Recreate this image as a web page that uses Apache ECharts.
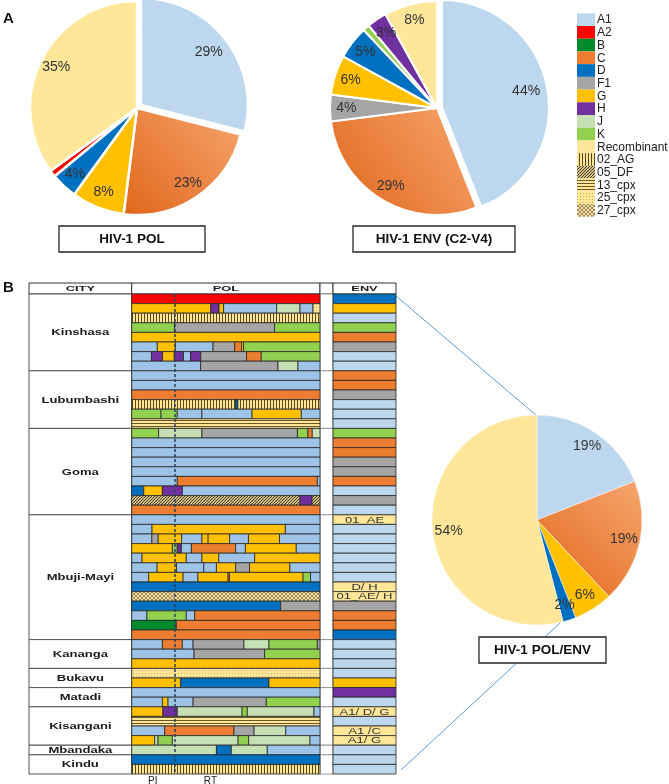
<!DOCTYPE html>
<html>
<head>
<meta charset="utf-8">
<title>HIV-1 subtypes</title>
<script src="https://cdn.jsdelivr.net/npm/echarts@6/dist/echarts.min.js"></script>
<style>
html, body { margin: 0; padding: 0; background: #fff; }
#chart { width: 669px; height: 784px; }
</style>
</head>
<body>
<div id="chart"></div>
<script>
// ---- data ----
var subtypes = ['A1', 'A2', 'B', 'C', 'D', 'F1', 'G', 'H', 'J', 'K', 'Recombinant',
                '02_AG', '05_DF', '13_cpx', '25_cpx', '27_cpx'];

var polPieNames = ['A1', 'C', 'G', 'D', 'A2', 'Recombinant'];
var polPieValues = [29, 23, 8, 4, 1, 35];

var envPieNames = ['A1', 'C', 'F1', 'G', 'D', 'K', 'H', 'Recombinant'];
var envPieValues = [44, 29, 4, 6, 5, 1, 3, 8];

var bothPieNames = ['A1', 'C', 'G', 'D', 'Recombinant'];
var bothPieValues = [19, 19, 6, 2, 54];

var cities = ['Kinshasa', 'Lubumbashi', 'Goma', 'Mbuji-Mayi', 'Kananga', 'Bukavu',
              'Matadi', 'Kisangani', 'Mbandaka', 'Kindu'];
var cityRowCounts = [8, 6, 9, 13, 3, 2, 2, 4, 1, 2];

// each POL row: subtype, end position (% of the pol fragment) ...
var polRows = [
  'A2 100',
  'G 42 H 46.4 G 48.8 A1 77 J 89.4 A1 96.3 25_cpx 100',
  '02_AG 100',
  'K 22.7 F1 75.9 K 100',
  'G 100',
  'A1 13.6 G 23.2 A1 43.2 F1 54.7 C 58.4 G 59.4 K 100',
  'A1 10.5 H 16.4 G 22.6 H 27.5 A1 31.3 H 36.7 F1 61 C 68.8 K 100',
  'A1 36.6 F1 77.7 J 88.3 A1 100',
  // Lubumbashi
  'A1 100',
  'A1 100',
  'C 100',
  '02_AG 55.2 D 56.4 02_AG 100',
  'K 15.6 K 24.2 A1 37.3 A1 63.9 G 90.1 A1 100',
  '13_cpx 100',
  // Goma
  'K 14.3 J 37.3 F1 88 K 93.6 C 95.9 J 100',
  'A1 100',
  'A1 100',
  'A1 100',
  'A1 100',
  'A1 24.2 C 98.6 A1 100',
  'D 6.4 G 16.3 H 26.9 A1 100',
  '05_DF 89.4 H 95.8 05_DF 100',
  'C 100',
  // Mbuji-Mayi
  'A1 100',
  'A1 10.8 G 81.6 A1 100',
  'A1 10.7 F1 14.1 G 26.5 A1 37.3 G 40.6 G 52 A1 62 G 78.5 A1 100',
  'G 21.6 K 24.2 H 26.4 A1 31.7 C 55.2 A1 60.4 G 87.4 A1 100',
  'A1 5.5 G 29 A1 37.3 G 46.2 A1 65.3 G 100',
  'A1 13.5 G 23.8 A1 38.3 A1 45 G 55.2 F1 62.6 G 84 A1 100',
  'A1 9 G 27.3 A1 35.2 G 51.2 C 51.9 G 91 K 95 A1 100',
  'D 100',
  '27_cpx 100',
  'D 79.1 F1 100',
  'A1 8.1 K 29 A1 33.5 C 100',
  'B 23.7 C 100',
  'C 100',
  // Kananga
  'A1 16.3 C 26.9 A1 32.6 F1 59.6 J 72.9 K 98.6 F1 100',
  'A1 33.1 F1 70.6 K 100',
  'G 100',
  // Bukavu
  '25_cpx 100',
  'G 26 D 72.9 G 100',
  // Matadi
  'A1 100',
  'A1 16.3 G 19.3 A1 32.6 F1 71.5 K 100',
  // Kisangani
  'G 16.6 H 24.2 J 58.6 K 61.4 J 96.8 A1 100',
  '13_cpx 100',
  'A1 17.5 C 54.3 F1 65 J 81.8 A1 100',
  'G 12.2 J 14 K 21.6 J 56.5 K 62.1 J 94.7 A1 100',
  // Mbandaka
  'J 45 D 52.9 J 72 A1 100',
  // Kindu
  'D 100',
  '02_AG 100'
];

// ENV subtype per row; recombinants carry their label after ':'
var envRows = [
  'D', 'G', 'A1', 'K', 'C', 'F1', 'A1', 'A1',
  'C', 'C', 'F1', 'A1', 'A1', 'A1',
  'K', 'C', 'C', 'F1', 'F1', 'C', 'A1', 'F1', 'A1',
  'Recombinant:01_AE', 'A1', 'A1', 'A1', 'A1', 'A1', 'A1', 'Recombinant:D/ H',
  'Recombinant:01_AE/ H', 'F1', 'C', 'C', 'D',
  'A1', 'A1', 'A1',
  'A1', 'G',
  'H', 'A1',
  'Recombinant:A1/ D/ G', 'A1', 'Recombinant:A1 /C', 'Recombinant:A1/ G',
  'A1',
  'A1', 'A1'
];

var regionNames = ['PI', 'RT'];
var regionCentres = [11.2, 41.8];
var piRtBoundary = 23;

// ---- styles ----
var FONT = '"Liberation Sans", Arial, sans-serif';

function pattern(w, h, bg, fg, px) {
    var c = document.createElement('canvas');
    c.width = w; c.height = h;
    var ctx = c.getContext('2d');
    ctx.fillStyle = bg; ctx.fillRect(0, 0, w, h);
    ctx.fillStyle = fg;
    px.forEach(function (p) { ctx.fillRect(p[0], p[1], p[2] || 1, p[3] || 1); });
    return {type: 'pattern', image: c, repeat: 'repeat'};
}

var orangeGrad = {type: 'linear', x: 1, y: 0, x2: 0, y2: 1,
    colorStops: [{offset: 0, color: '#F7A66E'}, {offset: 1, color: '#E0661A'}]};

var colors = {
    A1: '#9DC3E6', A2: '#FF0000', B: '#008A2E', C: '#ED7D31', D: '#0070C0',
    F1: '#A5A5A5', G: '#FFC000', H: '#7030A0', J: '#C5E0B4', K: '#92D050',
    Recombinant: '#FFE699',
    '02_AG': pattern(3, 3, '#FFE699', '#5b4714', [[0, 0, 1, 3]]),
    '05_DF': pattern(3, 3, '#d6c084', '#3f3a26', [[0, 2], [1, 1], [2, 0]]),
    '13_cpx': pattern(3, 3, '#FFE699', '#6b5624', [[0, 0, 3, 1]]),
    '25_cpx': pattern(3, 3, '#FFE699', '#cfae58', [[1, 1]]),
    '27_cpx': pattern(4, 4, '#f3dfa6', '#a08c58', [[0, 0], [1, 1], [2, 2], [3, 3], [3, 0], [2, 1], [1, 2], [0, 3]])
};
var pieColors = {A1: '#BDD7EE', C: orangeGrad};
function pieColor(n) { return pieColors[n] || colors[n]; }
function legendColor(n) { return n === 'A1' ? '#BDD7EE' : colors[n]; }
function envColor(n) { return n === 'A1' ? '#BDD7EE' : colors[n]; }

// ---- build tables for the series ----
var polData = [];
polRows.forEach(function (row, r) {
    var t = row.split(' '), start = 0;
    for (var i = 0; i < t.length; i += 2) {
        var end = +t[i + 1];
        polData.push([r, start, end, subtypes.indexOf(t[i])]);
        start = end;
    }
});

var envData = envRows.map(function (s, r) {
    var parts = s.split(':');
    return {value: [r, 0, 100, subtypes.indexOf(parts[0])], label: parts[1] || ''};
});

var cityData = [];
var acc = 0;
cityRowCounts.forEach(function (n) { cityData.push([acc, acc + n]); acc += n; });
var nRows = acc;

function pieData(names, values, selectFirst) {
    return names.map(function (n, i) {
        return {name: n, value: values[i], selected: selectFirst && n === 'A1',
                itemStyle: {color: pieColor(n)}};
    });
}

function pies(center, r, names, values, border, selectFirst) {
    return [{
        type: 'pie', center: center, radius: r, startAngle: 90, clockwise: true,
        selectedMode: 'multiple', selectedOffset: 5,
        data: pieData(names, values, selectFirst),
        itemStyle: {borderColor: '#fff', borderWidth: border},
        label: {show: false}, labelLine: {show: false},
        emphasis: {disabled: true}
    }, {
        type: 'pie', center: center, radius: [r * 0.64, r], startAngle: 90, clockwise: true,
        silent: true, z: 5,
        data: names.map(function (n, i) { return {name: n, value: values[i]}; }),
        itemStyle: {color: 'rgba(0,0,0,0)', borderWidth: 0},
        label: {show: true, position: 'inside', formatter: '{c}%', fontSize: 14,
                color: '#333', fontFamily: FONT},
        labelLine: {show: false},
        emphasis: {disabled: true}
    }];
}

function stretchedText(x, y, text, size, weight, sx) {
    return {type: 'text', x: x, y: y, scaleX: sx, z2: 10,
        style: {text: text, fontSize: size, fontWeight: weight, fontFamily: FONT,
                fill: '#1a1a1a', align: 'center', verticalAlign: 'middle'}};
}

var chart = echarts.init(document.getElementById('chart'));

var rowAxis = {type: 'value', min: 0, max: nRows, inverse: true, show: false};
var unitAxis = {type: 'value', min: 0, max: 1, show: false};

var series = []
    .concat(pies([137, 108], 107, polPieNames, polPieValues, 2.5, true))
    .concat(pies([437, 108], 107, envPieNames, envPieValues, 2, true))
    .concat(pies([537, 520], 105, bothPieNames, bothPieValues, 0.5, false));

// legend block
series.push({
    type: 'custom', xAxisIndex: 0, yAxisIndex: 0, silent: true,
    data: subtypes.map(function (s, i) { return [0, i]; }),
    renderItem: function (params, api) {
        var y = api.coord([0, api.value(1)])[1];
        var h = api.size([0, 1])[1];
        var x0 = params.coordSys.x;
        var name = subtypes[params.dataIndex];
        return {type: 'group', children: [
            {type: 'rect', shape: {x: x0, y: y - h / 2, width: 18, height: h},
             style: {fill: legendColor(name)}},
            {type: 'text', x: x0 + 20, y: y + 0.5,
             style: {text: name, fontSize: 12, fontFamily: FONT, fill: '#222', verticalAlign: 'middle'}}
        ]};
    }
});

// city column
series.push({
    type: 'custom', xAxisIndex: 1, yAxisIndex: 1, silent: true,
    data: cityData,
    renderItem: function (params, api) {
        var p0 = api.coord([0, api.value(0)]), p1 = api.coord([1, api.value(1)]);
        return {type: 'group', children: [
            {type: 'rect', shape: {x: p0[0], y: p0[1], width: p1[0] - p0[0], height: p1[1] - p0[1]},
             style: {fill: '#fff', stroke: '#555', lineWidth: 1}},
            stretchedText((p0[0] + p1[0]) / 2, (p0[1] + p1[1]) / 2 + 0.5, cities[params.dataIndex], 9, 'bold', 1.45)
        ]};
    }
});

// empty spacer column between POL and ENV
series.push({
    type: 'custom', xAxisIndex: 3, yAxisIndex: 3, silent: true,
    data: cityData,
    renderItem: function (params, api) {
        var p0 = api.coord([0, api.value(0)]), p1 = api.coord([1, api.value(1)]);
        return {type: 'rect', shape: {x: p0[0], y: p0[1], width: p1[0] - p0[0], height: p1[1] - p0[1]},
                style: {fill: '#fff', stroke: '#999', lineWidth: 1}};
    }
});

// POL mosaic
series.push({
    type: 'custom', xAxisIndex: 2, yAxisIndex: 2, silent: true,
    encode: {x: [1, 2], y: 0},
    data: polData,
    renderItem: function (params, api) {
        var r = api.value(0);
        var p0 = api.coord([api.value(1), r]), p1 = api.coord([api.value(2), r + 1]);
        return {type: 'rect',
                shape: {x: p0[0], y: p0[1], width: p1[0] - p0[0], height: p1[1] - p0[1]},
                style: {fill: colors[subtypes[api.value(3)]], stroke: '#262626', lineWidth: 0.8}};
    },
    markLine: {
        silent: true, symbol: ['none', 'none'], label: {show: false},
        lineStyle: {color: '#2d3f5c', type: [3, 2], width: 1.5},
        data: [{xAxis: piRtBoundary}]
    }
});

// ENV column
series.push({
    type: 'custom', xAxisIndex: 4, yAxisIndex: 4, silent: true,
    encode: {x: [1, 2], y: 0},
    data: envData,
    renderItem: function (params, api) {
        var r = api.value(0);
        var p0 = api.coord([api.value(1), r]), p1 = api.coord([api.value(2), r + 1]);
        var item = envData[params.dataIndex];
        var kids = [{type: 'rect',
            shape: {x: p0[0], y: p0[1], width: p1[0] - p0[0], height: p1[1] - p0[1]},
            style: {fill: envColor(subtypes[api.value(3)]), stroke: '#262626', lineWidth: 0.8}}];
        if (item.label) {
            var t = stretchedText((p0[0] + p1[0]) / 2, (p0[1] + p1[1]) / 2 + 0.5, item.label, 9, 'normal', 1.45);
            t.style.fill = '#333';
            kids.push(t);
        }
        return {type: 'group', children: kids};
    }
});

function headerCell(x, w, text) {
    return [{type: 'rect', shape: {x: x, y: 283, width: w, height: 11},
             style: {fill: '#fff', stroke: '#333', lineWidth: 1}},
            stretchedText(x + w / 2, 289, text, 8, 'bold', 1.6)];
}

function titleBox(x, y, w, h, text) {
    return [{type: 'rect', shape: {x: x, y: y, width: w, height: h}, z: 20,
             style: {fill: '#fff', stroke: '#262626', lineWidth: 1.3}},
            {type: 'text', x: x + w / 2, y: y + h / 2 + 0.5, z: 21,
             style: {text: text, fontSize: 13.5, fontWeight: 'bold', fontFamily: FONT,
                     fill: '#111', align: 'center', verticalAlign: 'middle'}}];
}

var graphics = []
    .concat([{type: 'text', x: 3, y: 11, style: {text: 'A', fontSize: 15, fontWeight: 'bold', fontFamily: FONT, fill: '#111'}},
             {type: 'text', x: 3, y: 280, style: {text: 'B', fontSize: 15, fontWeight: 'bold', fontFamily: FONT, fill: '#111'}}])
    .concat([{type: 'line', z: 1, shape: {x1: 396, y1: 296, x2: 537, y2: 416}, style: {stroke: '#5B9BD5', lineWidth: 1}},
             {type: 'line', z: 1, shape: {x1: 401, y1: 770, x2: 560, y2: 623}, style: {stroke: '#5B9BD5', lineWidth: 1}}])
    .concat(headerCell(29, 102.7, 'CITY'))
    .concat(headerCell(131.7, 188.3, 'POL'))
    .concat(headerCell(320, 13, ''))
    .concat(headerCell(333, 63, 'ENV'))
    .concat(titleBox(59, 226, 146, 26, 'HIV-1 POL'))
    .concat(titleBox(353, 226, 162, 26, 'HIV-1 ENV (C2-V4)'))
    .concat(titleBox(479, 637, 127, 26, 'HIV-1 POL/ENV'));

var option = {
    animation: false,
    textStyle: {fontFamily: FONT},
    grid: [
        {left: 577, top: 13.3, width: 90, height: 203.4, outerBoundsMode: 'none'},
        {left: 29, top: 294, width: 102.7, height: 480, outerBoundsMode: 'none'},
        {left: 131.7, top: 294, width: 188.3, height: 480, outerBoundsMode: 'none'},
        {left: 320, top: 294, width: 13, height: 480, outerBoundsMode: 'none'},
        {left: 333, top: 294, width: 63, height: 480, outerBoundsMode: 'none'}
    ],
    xAxis: [
        {type: 'value', min: 0, max: 1, show: false, gridIndex: 0},
        {type: 'value', min: 0, max: 1, show: false, gridIndex: 1},
        {type: 'value', min: 0, max: 100, gridIndex: 2,
         axisLine: {show: false}, axisTick: {show: false}, splitLine: {show: false},
         axisLabel: {customValues: regionCentres, margin: 2, fontSize: 10, color: '#222',
                     formatter: function (v) { return regionNames[regionCentres.indexOf(v)] || ''; }}},
        {type: 'value', min: 0, max: 1, show: false, gridIndex: 3},
        {type: 'value', min: 0, max: 100, show: false, gridIndex: 4}
    ],
    yAxis: [
        {type: 'category', data: subtypes, inverse: true, show: false, gridIndex: 0},
        Object.assign({gridIndex: 1}, rowAxis),
        Object.assign({gridIndex: 2}, rowAxis),
        Object.assign({gridIndex: 3}, rowAxis),
        Object.assign({gridIndex: 4}, rowAxis)
    ],
    graphic: graphics,
    series: series
};

chart.setOption(option);
</script>
</body>
</html>
